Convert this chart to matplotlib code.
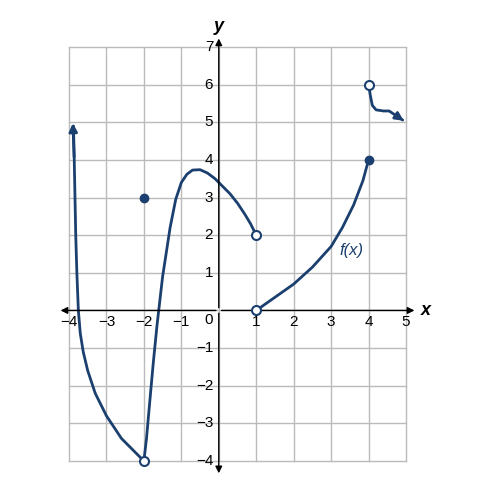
import matplotlib
matplotlib.use("Agg")
import matplotlib.pyplot as plt
plt.rcParams['font.family'] = ['Liberation Sans', 'DejaVu Sans']

seg1_x = [-3.88,-3.86,-3.84,-3.82,-3.79,-3.75,-3.7,-3.62,-3.5,-3.3,-3.0,-2.6,-2.2,-2.0]
seg1_y = [4.9,4.0,3.0,2.0,1.0,0.0,-0.6,-1.1,-1.6,-2.2,-2.8,-3.4,-3.8,-4.0]
seg2_x = [-2,-1.93,-1.85,-1.75,-1.65,-1.5,-1.3,-1.15,-1.0,-0.85,-0.7,-0.5,-0.3,-0.1,0.1,0.3,0.5,0.7,0.85,1]
seg2_y = [-4,-3.4,-2.5,-1.4,-0.4,0.9,2.2,2.95,3.4,3.62,3.73,3.74,3.65,3.5,3.3,3.1,2.85,2.55,2.3,2]
seg3_x = [1,1.5,2,2.5,3,3.3,3.6,3.85,4]
seg3_y = [0,0.35,0.7,1.15,1.7,2.2,2.8,3.45,4]
seg4_x = [4,4.05,4.1,4.2,4.4,4.55,4.7,4.85]
seg4_y = [6,5.7,5.45,5.33,5.3,5.3,5.2,5.1]
filled = [(-2,3),(4,4)]
opened = [(-2,-4),(1,2),(1,0),(4,6)]
xticks = [-4,-3,-2,-1,1,2,3,4,5]
yticks = [-4,-3,-2,-1,1,2,3,4,5,6,7]

C = "#1b3f6e"
fig = plt.figure(figsize=(4.87,4.94), dpi=100)
ax = fig.add_axes([69/487, 33/494, 337/487, 414/494])
ax.set_xlim(-4,5); ax.set_ylim(-4,7)
for s in ax.spines.values(): s.set_visible(False)
ax.set_xticks([]); ax.set_yticks([])
for v in range(-4,6): ax.plot([v,v],[-4,7],color="#bbbbbb",lw=1,zorder=0,clip_on=False)
for v in range(-4,8): ax.plot([-4,5],[v,v],color="#bbbbbb",lw=1,zorder=0,clip_on=False)
ap = dict(arrowstyle="-|>",color="black",lw=1,mutation_scale=10)
ax.annotate("",xy=(5.3,0),xytext=(0,0),arrowprops=ap,annotation_clip=False)
ax.annotate("",xy=(-4.3,0),xytext=(0,0),arrowprops=ap,annotation_clip=False)
ax.annotate("",xy=(0,7.3),xytext=(0,0),arrowprops=ap,annotation_clip=False)
ax.annotate("",xy=(0,-4.4),xytext=(0,0),arrowprops=ap,annotation_clip=False)
ax.text(5.4,0,"x",fontsize=13,fontweight="bold",style="italic",va="center",ha="left")
ax.text(0,7.55,"y",fontsize=13,fontweight="bold",style="italic",va="center",ha="center")
for t in xticks:
    ax.text(t,-0.3,str(t).replace("-","\u2212"),ha="center",va="center",fontsize=11)
for t in yticks:
    ax.text(-0.15,t,str(t).replace("-","\u2212"),ha="right",va="center",fontsize=11)
ax.text(-0.15,-0.25,"0",ha="right",va="center",fontsize=11)
for xs,ys in [(seg1_x,seg1_y),(seg2_x,seg2_y),(seg3_x,seg3_y),(seg4_x,seg4_y)]:
    ax.plot(xs,ys,color=C,lw=2,clip_on=False,solid_capstyle="round",solid_joinstyle="round")
ax.annotate("",xy=(seg1_x[0]-0.02,seg1_y[0]+0.15),xytext=(seg1_x[1],seg1_y[1]),arrowprops=dict(arrowstyle="-|>",color=C,lw=2,mutation_scale=12),annotation_clip=False)
ax.annotate("",xy=(5.0,5.0),xytext=(seg4_x[-1],seg4_y[-1]),arrowprops=dict(arrowstyle="-|>",color=C,lw=2,mutation_scale=12),annotation_clip=False)
ax.scatter([p[0] for p in filled],[p[1] for p in filled],s=36,color=C,zorder=5,clip_on=False)
ax.scatter([p[0] for p in opened],[p[1] for p in opened],s=42,facecolor="white",edgecolor=C,linewidths=1.5,zorder=5,clip_on=False)
ax.text(3.55,1.6,"f(x)",color=C,fontsize=12,style="italic",ha="center",va="center")
fig.savefig("out.png",dpi=100)
